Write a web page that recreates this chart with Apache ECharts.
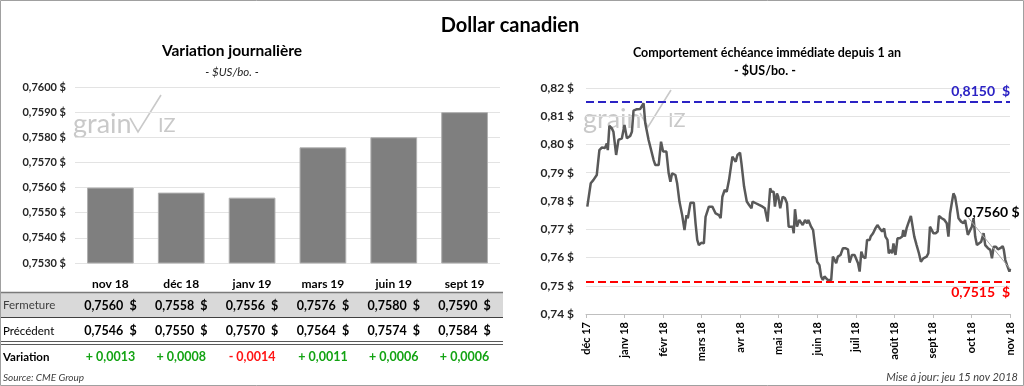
<!DOCTYPE html>
<html><head><meta charset="utf-8">
<script src="https://cdn.jsdelivr.net/npm/echarts@6/dist/echarts.min.js"></script>
<style>html,body{margin:0;padding:0;background:#fff;}#c{width:1024px;height:386px;}</style>
</head><body><div id="c"></div>
<script>
// ---------- data ----------
const contracts = ['nov 18', 'déc 18', 'janv 19', 'mars 19', 'juin 19', 'sept 19'];
const closeValues = [0.7560, 0.7558, 0.7556, 0.7576, 0.7580, 0.7590];
const prevValues = [0.7546, 0.7550, 0.7570, 0.7564, 0.7574, 0.7584];
const changeValues = [0.0013, 0.0008, -0.0014, 0.0011, 0.0006, 0.0006];

const monthLabels = ['déc 17', 'janv 18', 'févr 18', 'mars 18', 'avr 18', 'mai 18', 'juin 18', 'juil 18', 'août 18', 'sept 18', 'oct 18', 'nov 18'];
// position in months since déc 17
const trendMonths = [0.034,0.060,0.123,0.190,0.279,0.347,0.409,0.495,0.539,0.566,0.607,0.670,0.712,0.782,0.842,0.931,0.998,1.061,1.147,1.191,1.233,1.322,1.408,1.452,1.494,1.538,1.624,1.668,1.754,1.799,1.885,1.947,2.000,2.086,2.145,2.190,2.234,2.320,2.364,2.424,2.495,2.555,2.607,2.641,2.711,2.797,2.842,2.886,2.928,2.990,3.058,3.102,3.188,3.277,3.363,3.449,3.493,3.538,3.598,3.650,3.710,3.736,3.798,3.840,3.884,3.929,3.996,4.033,4.101,4.171,4.231,4.294,4.320,4.406,4.492,4.580,4.640,4.711,4.778,4.815,4.867,4.901,4.953,4.987,5.039,5.102,5.162,5.214,5.258,5.362,5.389,5.422,5.474,5.534,5.579,5.623,5.683,5.735,5.769,5.839,5.892,5.944,5.996,6.056,6.100,6.144,6.186,6.275,6.361,6.405,6.447,6.491,6.535,6.603,6.666,6.726,6.796,6.838,6.900,6.968,7.013,7.057,7.099,7.143,7.187,7.247,7.292,7.359,7.385,7.448,7.508,7.560,7.620,7.683,7.735,7.769,7.821,7.855,7.907,7.943,7.977,8.029,8.081,8.141,8.204,8.230,8.272,8.316,8.360,8.428,8.465,8.517,8.577,8.637,8.689,8.751,8.837,8.882,8.923,8.968,9.012,9.072,9.124,9.158,9.228,9.299,9.359,9.403,9.445,9.489,9.533,9.575,9.619,9.664,9.731,9.794,9.836,9.906,9.966,10.010,10.055,10.097,10.141,10.185,10.253,10.315,10.357,10.428,10.488,10.532,10.576,10.636,10.688,10.748,10.811,10.837,10.879,10.923,10.967,10.985,11.000];
const trendValues = [0.7780,0.7774,0.7863,0.7874,0.7892,0.7980,0.7989,0.7988,0.8004,0.7980,0.8066,0.8057,0.8045,0.7963,0.8016,0.8022,0.8069,0.8022,0.8030,0.8045,0.8120,0.8125,0.8126,0.8122,0.8146,0.8075,0.8016,0.7992,0.7945,0.7927,0.7927,0.8010,0.7975,0.7975,0.7898,0.7868,0.7898,0.7892,0.7863,0.7798,0.7750,0.7697,0.7750,0.7739,0.7794,0.7794,0.7721,0.7662,0.7644,0.7652,0.7650,0.7744,0.7780,0.7780,0.7756,0.7750,0.7739,0.7815,0.7839,0.7833,0.7874,0.7880,0.7957,0.7951,0.7939,0.7963,0.7971,0.7933,0.7851,0.7798,0.7786,0.7774,0.7798,0.7792,0.7786,0.7780,0.7774,0.7727,0.7845,0.7833,0.7833,0.7780,0.7827,0.7815,0.7774,0.7815,0.7810,0.7792,0.7709,0.7709,0.7686,0.7771,0.7709,0.7733,0.7739,0.7715,0.7733,0.7721,0.7733,0.7709,0.7697,0.7638,0.7585,0.7573,0.7533,0.7520,0.7533,0.7520,0.7520,0.7603,0.7609,0.7580,0.7603,0.7609,0.7633,0.7633,0.7629,0.7582,0.7609,0.7609,0.7615,0.7580,0.7550,0.7621,0.7603,0.7597,0.7662,0.7662,0.7674,0.7686,0.7703,0.7715,0.7703,0.7692,0.7703,0.7674,0.7662,0.7615,0.7627,0.7615,0.7650,0.7609,0.7668,0.7668,0.7674,0.7697,0.7674,0.7703,0.7721,0.7747,0.7745,0.7674,0.7644,0.7615,0.7585,0.7597,0.7603,0.7615,0.7709,0.7703,0.7686,0.7686,0.7692,0.7747,0.7739,0.7733,0.7721,0.7674,0.7756,0.7792,0.7827,0.7815,0.7780,0.7739,0.7727,0.7721,0.7733,0.7680,0.7697,0.7709,0.7739,0.7674,0.7644,0.7644,0.7656,0.7686,0.7644,0.7633,0.7627,0.7597,0.7638,0.7638,0.7629,0.7633,0.7640,0.7629,0.7591,0.7573,0.7567,0.7550,0.7560];
const highValue = 0.8150;
const lowValue = 0.7515;
const lastValue = 0.7560;

// ---------- helpers ----------
const FONT = 'Lato, "Noto Sans", sans-serif';
const fr = (v, d) => v.toFixed(d).replace('.', ',');
const money = (v, d) => fr(v, d) + ' $';
const signed = v => (v < 0 ? '- ' : '+ ') + fr(Math.abs(v), 4);

const lastIdx = trendMonths.length - 1;
const lineData = trendMonths.map((m, i) => {
  const item = { value: [m, trendValues[i]] };
  if (i === lastIdx) {
    item.label = {
      show: true, position: 'top', formatter: money(lastValue, 4),
      fontFamily: FONT, fontWeight: 'bold', fontSize: 14, color: '#000'
    };
  }
  return item;
});

function tableAxis(margin, fmt, extra) {
  return Object.assign({
    type: 'category', gridIndex: 0, data: contracts, position: 'bottom',
    axisLine: { show: false }, axisTick: { show: false }, splitLine: { show: false },
    axisLabel: Object.assign({
      interval: 0, margin: margin, fontFamily: FONT, fontWeight: 'bold', fontSize: 12.5, color: '#000',
      formatter: (v, i) => fmt(i)
    }, extra || {})
  });
}

function watermark(x, y) {
  const c = '#c9c9c9';
  return {
    type: 'group', x: x, y: y, z: 1, silent: true,
    children: [
      { type: 'text', x: 0, y: -8, style: { text: 'grain', font: '27px ' + FONT, fill: c, verticalAlign: 'middle' } },
      { type: 'polyline', shape: { points: [[57, -14], [65, 0], [88, -37]] }, style: { stroke: c, lineWidth: 1.6, fill: null } },
      { type: 'text', x: 85, y: -6, style: { text: 'IZ', font: '20px ' + FONT, fill: c, verticalAlign: 'middle' } }
    ]
  };
}

const chart = echarts.init(document.getElementById('c'));
chart.setOption({
  animation: false,
  backgroundColor: '#fff',
  textStyle: { fontFamily: FONT },
  grid: [
    { left: 75, right: 524, top: 87, bottom: 123 },
    { left: 586, right: 14, top: 88, bottom: 72 }
  ],
  xAxis: [
    tableAxis(15, i => contracts[i], { fontSize: 12 }),
    tableAxis(36, i => fr(closeValues[i], 4) + '  $'),
    tableAxis(61, i => fr(prevValues[i], 4) + '  $'),
    tableAxis(87, i => changeValues[i] < 0 ? '{r|' + signed(changeValues[i]) + '}' : '{g|' + signed(changeValues[i]) + '}', {
      rich: {
        g: { color: '#13a313', fontWeight: 'bold', fontSize: 12.5, fontFamily: FONT },
        r: { color: '#ff1414', fontWeight: 'bold', fontSize: 12.5, fontFamily: FONT }
      }
    }),
    {
      type: 'value', gridIndex: 1, min: 0, max: 11, interval: 1,
      axisLine: { show: true, lineStyle: { color: '#bfbfbf', width: 1 } },
      axisTick: { show: true, length: 4, lineStyle: { color: '#bfbfbf' } },
      splitLine: { show: false },
      axisLabel: {
        rotate: 90, margin: 8, fontFamily: FONT, fontWeight: 'bold', fontSize: 11, color: '#000',
        formatter: v => monthLabels[Math.round(v)]
      }
    }
  ],
  yAxis: [
    {
      type: 'value', gridIndex: 0, min: 0.753, max: 0.760, interval: 0.001,
      axisLine: { show: false }, axisTick: { show: false },
      splitLine: { lineStyle: { color: '#e3e3e3', width: 1 } },
      axisLabel: { margin: 9, fontFamily: FONT, fontWeight: 'bold', fontSize: 11, color: '#262626', formatter: v => money(v, 4) }
    },
    {
      type: 'value', gridIndex: 1, min: 0.74, max: 0.82, interval: 0.01,
      axisLine: { show: false }, axisTick: { show: false },
      splitLine: { lineStyle: { color: '#e3e3e3', width: 1 } },
      axisLabel: { margin: 12, fontFamily: FONT, fontWeight: 'bold', fontSize: 12, color: '#262626', formatter: v => money(v, 2) }
    }
  ],
  series: [
    {
      type: 'bar', xAxisIndex: 0, yAxisIndex: 0, data: closeValues, barWidth: '66%',
      itemStyle: { color: '#7f7f7f', borderColor: '#b0b0b0', borderWidth: 1 }, silent: true
    },
    {
      type: 'line', xAxisIndex: 4, yAxisIndex: 1, data: lineData,
      showSymbol: true, showAllSymbol: true, symbol: 'circle', symbolSize: 0,
      lineStyle: { color: '#595959', width: 2.5 }, itemStyle: { color: '#595959' },
      z: 3, silent: true,
      labelLine: { show: true, lineStyle: { color: '#a6a6a6', width: 1 } },
      labelLayout: p => p.dataIndex === lastIdx ? { dx: -18, dy: -44 } : {},
      markLine: {
        silent: true, symbol: 'none', animation: false, precision: 4,
        data: [
          {
            yAxis: highValue,
            lineStyle: { color: '#2b22c4', type: [8, 4], width: 2.2 },
            label: { position: 'insideEndTop', formatter: fr(highValue, 4) + '  $', color: '#2b22c4', fontFamily: FONT, fontWeight: 'bold', fontSize: 14, distance: [0, 4] }
          },
          {
            yAxis: lowValue,
            lineStyle: { color: '#ff0000', type: [8, 4], width: 2.2 },
            label: { position: 'insideEndBottom', formatter: fr(lowValue, 4) + '  $', color: '#ff0000', fontFamily: FONT, fontWeight: 'bold', fontSize: 14, distance: [0, 4] }
          }
        ]
      }
    }
  ],
  graphic: [
    { type: 'rect', z: -5, shape: { x: 0, y: 293, width: 503, height: 24 }, style: { fill: '#d9d9d9' } },
    { type: 'line', z: 2, shape: { x1: 0, y1: 292.5, x2: 503, y2: 292.5 }, style: { stroke: '#7a7a7a', lineWidth: 1.5 } },
    { type: 'line', z: 2, shape: { x1: 0, y1: 317.5, x2: 503, y2: 317.5 }, style: { stroke: '#404040', lineWidth: 1.2 } },
    { type: 'line', z: 2, shape: { x1: 0, y1: 341.5, x2: 503, y2: 341.5 }, style: { stroke: '#595959', lineWidth: 1 } },
    { type: 'line', z: 2, shape: { x1: 0, y1: 344.5, x2: 503, y2: 344.5 }, style: { stroke: '#595959', lineWidth: 1 } },
    { type: 'text', x: 3, y: 305.5, style: { text: 'Fermeture', font: '11.5px ' + FONT, fill: '#404040', verticalAlign: 'middle' } },
    { type: 'text', x: 3, y: 331, style: { text: 'Précédent', font: '11.5px ' + FONT, fill: '#000', verticalAlign: 'middle' } },
    { type: 'text', x: 3, y: 357.5, style: { text: 'Variation', font: 'bold 11.5px ' + FONT, fill: '#000', verticalAlign: 'middle' } },
    { type: 'text', x: 3, y: 377.5, style: { text: 'Source: CME Group', font: 'italic 10px ' + FONT, fill: '#404040', verticalAlign: 'middle' } },
    { type: 'text', x: 1018, y: 377.5, style: { text: 'Mise à jour: jeu 15 nov 2018', font: 'italic 11px ' + FONT, fill: '#404040', align: 'right', verticalAlign: 'middle' } },
    { type: 'text', x: 510, y: 26, style: { text: 'Dollar canadien', font: 'bold 20px ' + FONT, fill: '#000', align: 'center', verticalAlign: 'middle' } },
    { type: 'text', x: 232, y: 51, style: { text: 'Variation journalière', font: 'bold 15.5px ' + FONT, fill: '#000', align: 'center', verticalAlign: 'middle' } },
    { type: 'text', x: 232, y: 72, style: { text: '- $US/bo. -', font: 'italic 11.5px ' + FONT, fill: '#262626', align: 'center', verticalAlign: 'middle' } },
    { type: 'text', x: 767, y: 53, style: { text: 'Comportement échéance immédiate depuis 1 an', font: 'bold 12.5px ' + FONT, fill: '#000', align: 'center', verticalAlign: 'middle' } },
    { type: 'text', x: 765, y: 71, style: { text: '- $US/bo. -', font: 'bold 12.5px ' + FONT, fill: '#000', align: 'center', verticalAlign: 'middle' } },
    watermark(73, 132),
    watermark(583, 127),
    { type: 'rect', z: 10, silent: true, shape: { x: 0.5, y: 0.5, width: 1023, height: 385 }, style: { fill: null, stroke: '#a0a0a0', lineWidth: 1 } }
  ]
});
</script>
</body></html>
